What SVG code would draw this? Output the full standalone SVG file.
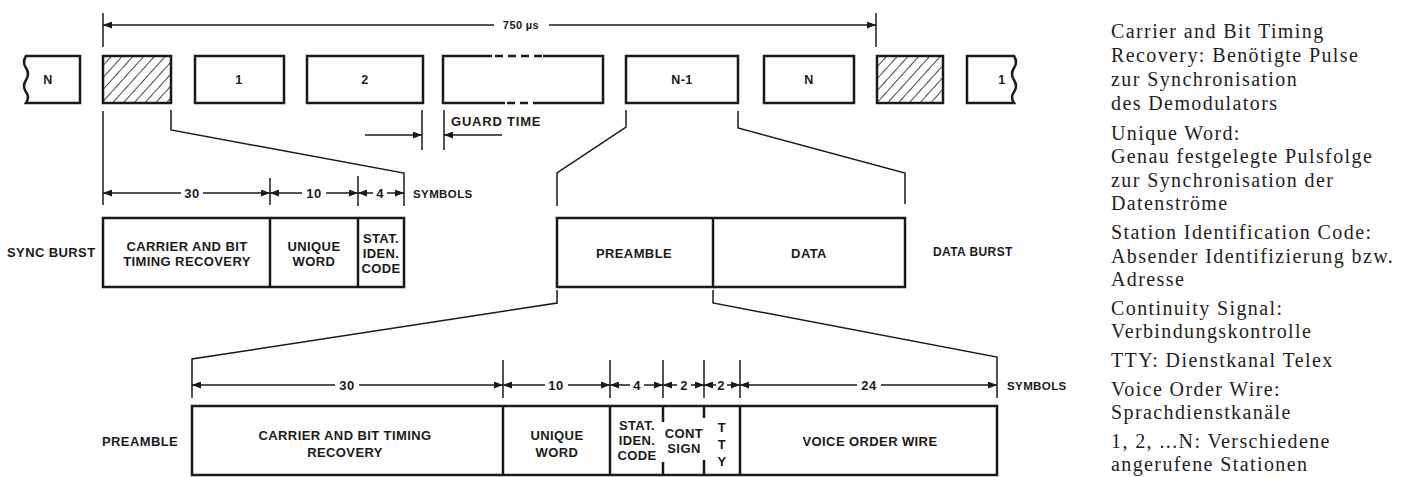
<svg xmlns="http://www.w3.org/2000/svg" width="1408" height="477" viewBox="0 0 1408 477">
<defs>
<marker id="ah" viewBox="0 0 9 7" refX="9" refY="3.5" markerWidth="9" markerHeight="7" markerUnits="userSpaceOnUse" orient="auto"><path d="M0,0 L9,3.5 L0,7 z" fill="#1a1a1a"/></marker>
<pattern id="hatch" width="8" height="8" patternUnits="userSpaceOnUse" patternTransform="rotate(42)"><line x1="0" y1="0" x2="0" y2="8" stroke="#1a1a1a" stroke-width="1.6"/></pattern>
<style>
.box{fill:#fff;stroke:#1a1a1a;stroke-width:2.5}
.hb{fill:url(#hatch);stroke:#1a1a1a;stroke-width:2.5}
.ln{fill:none;stroke:#1a1a1a;stroke-width:1.5}
.div{stroke:#1a1a1a;stroke-width:2.5}
.dim{stroke:#1a1a1a;stroke-width:1.5;marker-end:url(#ah)}
.lb{font-family:"Liberation Sans",Arial,sans-serif;font-weight:bold;font-size:13px;fill:#1a1a1a;text-anchor:middle;letter-spacing:0.4px}
.ls{font-family:"Liberation Sans",Arial,sans-serif;font-weight:bold;font-size:13px;fill:#1a1a1a;letter-spacing:0.4px}
.sm{font-size:11.5px}
.tp{font-size:12.5px}
.tx{font-family:"Liberation Serif","Times New Roman",serif;font-size:20px;fill:#1e1e1e;letter-spacing:1.4px}
</style>
</defs>
<rect width="1408" height="477" fill="#fff"/>

<!-- top frame row -->
<g id="frame-N-left"><path class="box" d="M80,56 H26 q-4,6 0,12 q4,6 0,12 q-4,6 0,12 q4,5 0,11 H80 Z"/><text class="lb tp" x="48" y="84">N</text></g>
<g id="frame-sync1"><rect class="hb" x="103" y="56" width="68" height="47"/></g>
<g id="frame-1"><rect class="box" x="195" y="56" width="89" height="47"/><text class="lb tp" x="239" y="84">1</text></g>
<g id="frame-2"><rect class="box" x="307" y="56" width="116" height="47"/><text class="lb tp" x="365" y="84">2</text></g>
<g id="frame-dots">
<path class="ln" style="stroke-width:2.5" d="M492,56 H443 V103 H505 M540,103 H603 V56 H543"/>
<line x1="492" y1="56" x2="543" y2="56" stroke="#1a1a1a" stroke-width="2.5" stroke-dasharray="8 5" stroke-dashoffset="-3"/>
<line x1="505" y1="103" x2="540" y2="103" stroke="#1a1a1a" stroke-width="2.5" stroke-dasharray="8 5" stroke-dashoffset="-2"/>
</g>
<g id="frame-N-1"><rect class="box" x="626" y="56" width="112" height="47"/><text class="lb tp" x="682" y="84">N-1</text></g>
<g id="frame-N"><rect class="box" x="764" y="56" width="90" height="47"/><text class="lb tp" x="809" y="84">N</text></g>
<g id="frame-sync2"><rect class="hb" x="877" y="56" width="66" height="47"/></g>
<g id="frame-1-right"><path class="box" d="M967,56 H1014 q4,6 0,12 q-4,6 0,12 q4,6 0,12 q-4,5 0,11 H967 Z"/><text class="lb tp" x="1002" y="84">1</text></g>

<!-- sync burst -->
<g id="sync-burst">
<rect class="box" x="103" y="218" width="301" height="69"/>
<line class="div" x1="270" y1="218" x2="270" y2="287"/>
<line class="div" x1="358" y1="218" x2="358" y2="287"/>
<text class="lb" x="187" y="251">CARRIER AND BIT</text>
<text class="lb" x="187" y="266">TIMING RECOVERY</text>
<text class="lb" x="314" y="251">UNIQUE</text>
<text class="lb" x="314" y="266">WORD</text>
<text class="lb" x="381" y="243">STAT.</text>
<text class="lb" x="381" y="258">IDEN.</text>
<text class="lb" x="381" y="273">CODE</text>
</g>
<g id="sync-burst-label"><text class="ls" x="7" y="257">SYNC BURST</text></g>

<!-- data burst -->
<g id="data-burst">
<rect class="box" x="557" y="218" width="348" height="69"/>
<line class="div" x1="713" y1="218" x2="713" y2="287"/>
<text class="lb" x="634" y="258">PREAMBLE</text>
<text class="lb" x="809" y="258">DATA</text>
</g>
<g id="data-burst-label"><text class="ls" style="font-size:12px" x="933" y="256">DATA BURST</text></g>

<!-- preamble detail -->
<g id="preamble-detail">
<rect class="box" x="192" y="406" width="805" height="69"/>
<line class="div" x1="503" y1="406" x2="503" y2="475"/>
<line class="div" x1="610" y1="406" x2="610" y2="475"/>
<line class="div" x1="740" y1="406" x2="740" y2="475"/>
<line class="div" x1="663" y1="406" x2="663" y2="422"/>
<line class="div" x1="663" y1="462" x2="663" y2="475"/>
<line class="div" x1="704" y1="406" x2="704" y2="418"/>
<line class="div" x1="704" y1="460" x2="704" y2="475"/>
<text class="lb" x="345" y="440">CARRIER AND BIT TIMING</text>
<text class="lb" x="345" y="457">RECOVERY</text>
<text class="lb" x="557" y="440">UNIQUE</text>
<text class="lb" x="557" y="457">WORD</text>
<text class="lb" x="637" y="430">STAT.</text>
<text class="lb" x="637" y="445">IDEN.</text>
<text class="lb" x="637" y="460">CODE</text>
<text class="lb" x="684" y="438">CONT</text>
<text class="lb" x="684" y="453">SIGN</text>
<text class="lb" x="722" y="432">T</text>
<text class="lb" x="722" y="449">T</text>
<text class="lb" x="722" y="466">Y</text>
<text class="lb" x="870" y="446">VOICE ORDER WIRE</text>
</g>
<g id="preamble-label"><text class="ls" x="102" y="446">PREAMBLE</text></g>

<!-- connectors and dimensions -->
<g id="connectors">
<!-- 750 us -->
<line class="ln" x1="103" y1="13" x2="103" y2="47"/>
<line class="ln" x1="876" y1="13" x2="876" y2="47"/>
<line class="dim" x1="494" y1="25" x2="103" y2="25"/>
<line class="dim" x1="549" y1="25" x2="876" y2="25"/>
<text class="lb" style="font-size:11px" x="521" y="29">750 µs</text>
<!-- guard time -->
<line class="ln" x1="422" y1="110" x2="422" y2="150"/>
<line class="ln" x1="444" y1="110" x2="444" y2="150"/>
<line class="dim" x1="365" y1="135" x2="422" y2="135"/>
<line class="dim" x1="502" y1="135" x2="444" y2="135"/>
<text class="ls" x="451" y="126" style="letter-spacing:0.8px">GUARD TIME</text>
<!-- sync burst expansion -->
<polyline class="ln" points="103,111 103,205"/>
<polyline class="ln" points="171,110 171,130 404,173 404,206"/>
<line class="ln" x1="270" y1="178" x2="270" y2="205"/>
<line class="ln" x1="358" y1="176" x2="358" y2="206"/>
<line class="dim" x1="181" y1="193" x2="103" y2="193"/>
<line class="dim" x1="203" y1="193" x2="270" y2="193"/>
<line class="dim" x1="302" y1="193" x2="270" y2="193"/>
<line class="dim" x1="326" y1="193" x2="358" y2="193"/>
<line class="dim" x1="373" y1="193" x2="358" y2="193"/>
<line class="dim" x1="387" y1="193" x2="404" y2="193"/>
<text class="lb" x="192" y="197.5">30</text>
<text class="lb" x="314" y="197.5">10</text>
<text class="lb" x="380" y="197.5">4</text>
<text class="ls sm" x="413" y="197.5">SYMBOLS</text>
<!-- data burst expansion -->
<polyline class="ln" points="626,110 626,127 557,173 557,206"/>
<polyline class="ln" points="738,111 738,128 905,173 905,204"/>
<!-- preamble expansion -->
<polyline class="ln" points="557,290 557,303 192,359 192,398"/>
<polyline class="ln" points="713,290 713,303 997,357 997,398"/>
<line class="ln" x1="503" y1="360" x2="503" y2="398"/>
<line class="ln" x1="610" y1="360" x2="610" y2="398"/>
<line class="ln" x1="663" y1="360" x2="663" y2="398"/>
<line class="ln" x1="704" y1="360" x2="704" y2="398"/>
<line class="ln" x1="740" y1="360" x2="740" y2="398"/>
<line class="dim" x1="335" y1="385" x2="192" y2="385"/>
<line class="dim" x1="359" y1="385" x2="503" y2="385"/>
<line class="dim" x1="545" y1="385" x2="503" y2="385"/>
<line class="dim" x1="568" y1="385" x2="610" y2="385"/>
<line class="dim" x1="630" y1="385" x2="610" y2="385"/>
<line class="dim" x1="644" y1="385" x2="663" y2="385"/>
<line class="dim" x1="677" y1="385" x2="663" y2="385"/>
<line class="dim" x1="691" y1="385" x2="704" y2="385"/>
<line class="dim" x1="716" y1="385" x2="704" y2="385"/>
<line class="dim" x1="727" y1="385" x2="740" y2="385"/>
<line class="dim" x1="857" y1="385" x2="740" y2="385"/>
<line class="dim" x1="881" y1="385" x2="997" y2="385"/>
<text class="lb" x="347" y="389.5">30</text>
<text class="lb" x="556" y="389.5">10</text>
<text class="lb" x="637" y="389.5">4</text>
<text class="lb" x="684" y="389.5">2</text>
<text class="lb" x="721" y="389.5">2</text>
<text class="lb" x="869" y="389.5">24</text>
<text class="ls sm" x="1007" y="389.5">SYMBOLS</text>
</g>

<!-- legend text -->
<g id="legend">
<text class="tx" x="1111" y="38">Carrier and Bit Timing</text>
<text class="tx" x="1111" y="62">Recovery: Benötigte Pulse</text>
<text class="tx" x="1111" y="86">zur Synchronisation</text>
<text class="tx" x="1111" y="110">des Demodulators</text>
<text class="tx" x="1111" y="140">Unique Word:</text>
<text class="tx" x="1111" y="163">Genau festgelegte Pulsfolge</text>
<text class="tx" x="1111" y="187">zur Synchronisation der</text>
<text class="tx" x="1111" y="210">Datenströme</text>
<text class="tx" x="1111" y="239">Station Identification Code:</text>
<text class="tx" x="1111" y="263">Absender Identifizierung bzw.</text>
<text class="tx" x="1111" y="286">Adresse</text>
<text class="tx" x="1111" y="315">Continuity Signal:</text>
<text class="tx" x="1111" y="338">Verbindungskontrolle</text>
<text class="tx" x="1111" y="367">TTY: Dienstkanal Telex</text>
<text class="tx" x="1111" y="396">Voice Order Wire:</text>
<text class="tx" x="1111" y="419">Sprachdienstkanäle</text>
<text class="tx" x="1111" y="448">1, 2, ...N: Verschiedene</text>
<text class="tx" x="1111" y="471">angerufene Stationen</text>
</g>
</svg>
